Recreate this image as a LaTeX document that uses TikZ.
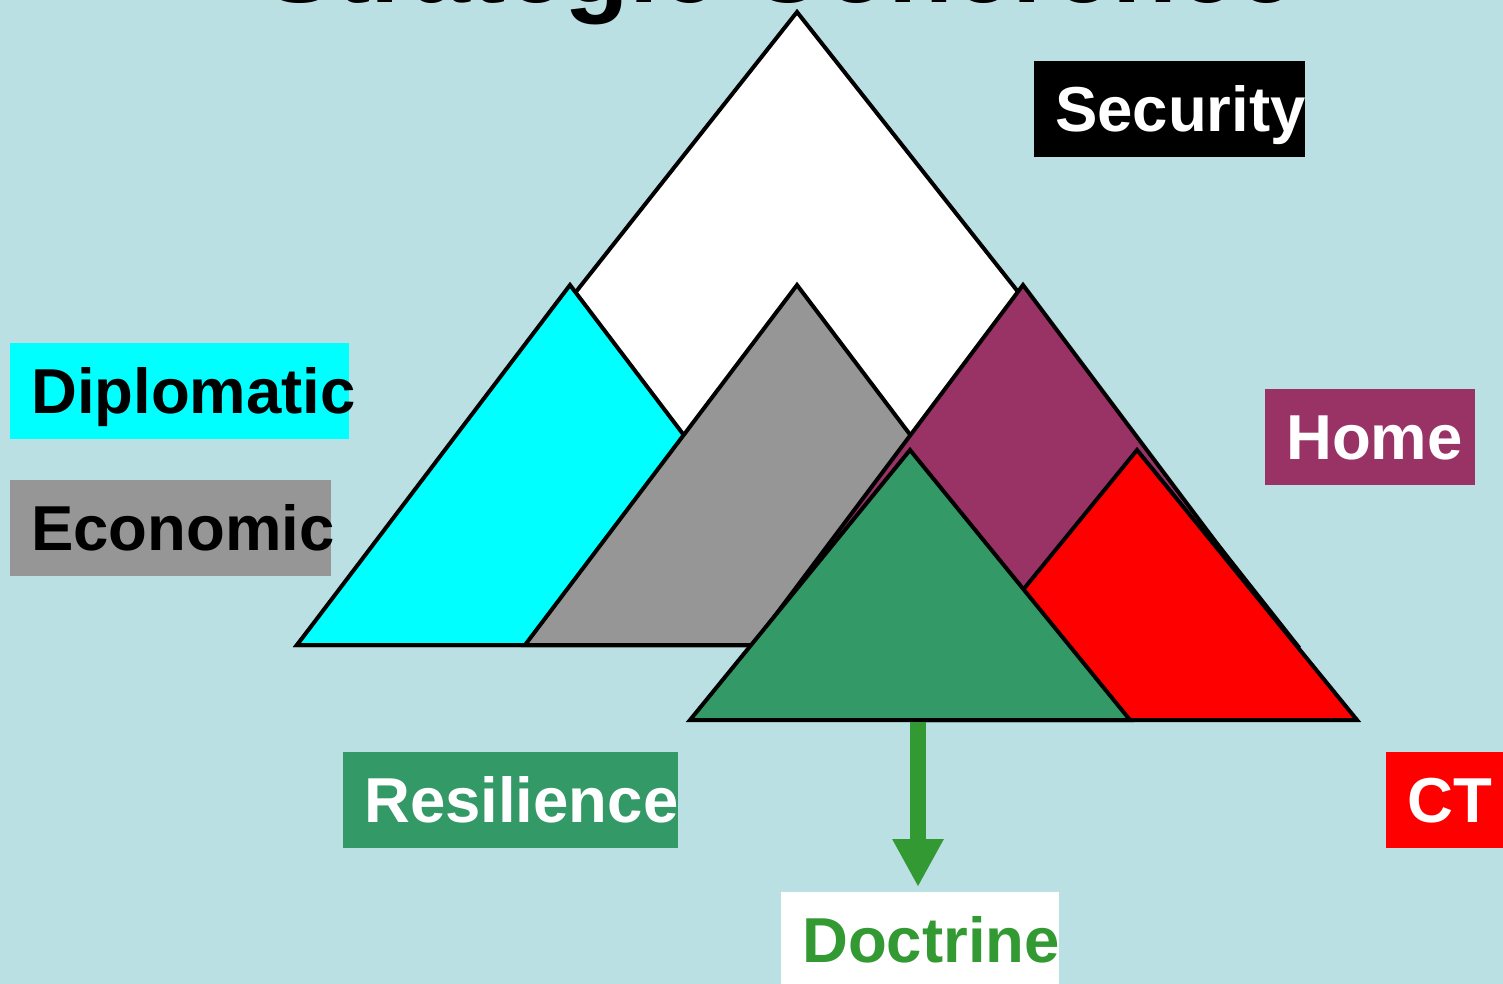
\documentclass[tikz,border=0pt]{standalone}
\usepackage{fontspec}
\setmainfont{Liberation Sans}
\usetikzlibrary{arrows.meta}
\definecolor{bg}{HTML}{BBE0E3}
\definecolor{cyanc}{HTML}{00FFFF}
\definecolor{grayc}{HTML}{969696}
\definecolor{purplec}{HTML}{993366}
\definecolor{redc}{HTML}{FF0000}
\definecolor{greenc}{HTML}{339966}
\definecolor{arrowc}{HTML}{339933}
\begin{document}
\begin{tikzpicture}[x=1pt,y=-1pt,
  tri/.style={draw=black,line width=4pt,line join=miter},
  lbl/.style={anchor=north west, minimum height=96pt, inner xsep=21pt, inner ysep=0pt,
    text height=45.5pt, text depth=0pt, align=left,
    font=\bfseries\fontsize{63.5}{70}\selectfont,
    execute at begin node={\hyphenpenalty=10000\relax}},
  arr/.style={draw=arrowc, line width=16pt, -{Triangle[width=48pt,length=48pt]}}]
\useasboundingbox (0,0) rectangle (1503,984);
\fill[bg] (0,0) rectangle (1503,984);
% title (mostly above the page)
\node[anchor=base, font=\bfseries\fontsize{106}{110}\selectfont, inner sep=0pt] (title) at (780,3) {Strategic Coherence};
% triangles
\filldraw[tri, fill=white]   (297,645) -- (797,12)  -- (1297,645) -- cycle;
\filldraw[tri, fill=cyanc]   (297,645) -- (570,285) -- (843,645) -- cycle;
\filldraw[tri, fill=grayc]   (525,645) -- (797,285) -- (1069,645) -- cycle;
\filldraw[tri, fill=purplec] (753,645) -- (1023,285) -- (1293,645) -- cycle;
\filldraw[tri, fill=redc]    (917,720) -- (1137,450) -- (1357,720) -- cycle;
\filldraw[tri, fill=greenc]  (690,720) -- (910,450) -- (1130,720) -- cycle;
% labels
\node[lbl, fill=black, text=white, text width=229pt] (security) at (1034,61) {Security};
\node[lbl, fill=cyanc, text=black, text width=297pt] (diplomatic) at (10,343) {Diplomatic};
\node[lbl, fill=grayc, text=black, text width=279pt] (economic) at (10,480) {Economic};
\node[lbl, fill=purplec, text=white, text width=168pt] (home) at (1265,389) {Home};
\node[lbl, fill=greenc, text=white, text width=293pt] (resilience) at (343,752) {Resilience};
\node[lbl, fill=redc, text=white, text width=75pt] (ct) at (1386,752) {CT};
\node[lbl, fill=white, text=arrowc, text width=236pt] (doctrine) at (781,892) {Doctrine};
% arrow
\coordinate (gbase) at (918,722);
\coordinate (atip) at (918,887);
\draw[arr] (gbase) -- (atip);
\end{tikzpicture}
\end{document}
